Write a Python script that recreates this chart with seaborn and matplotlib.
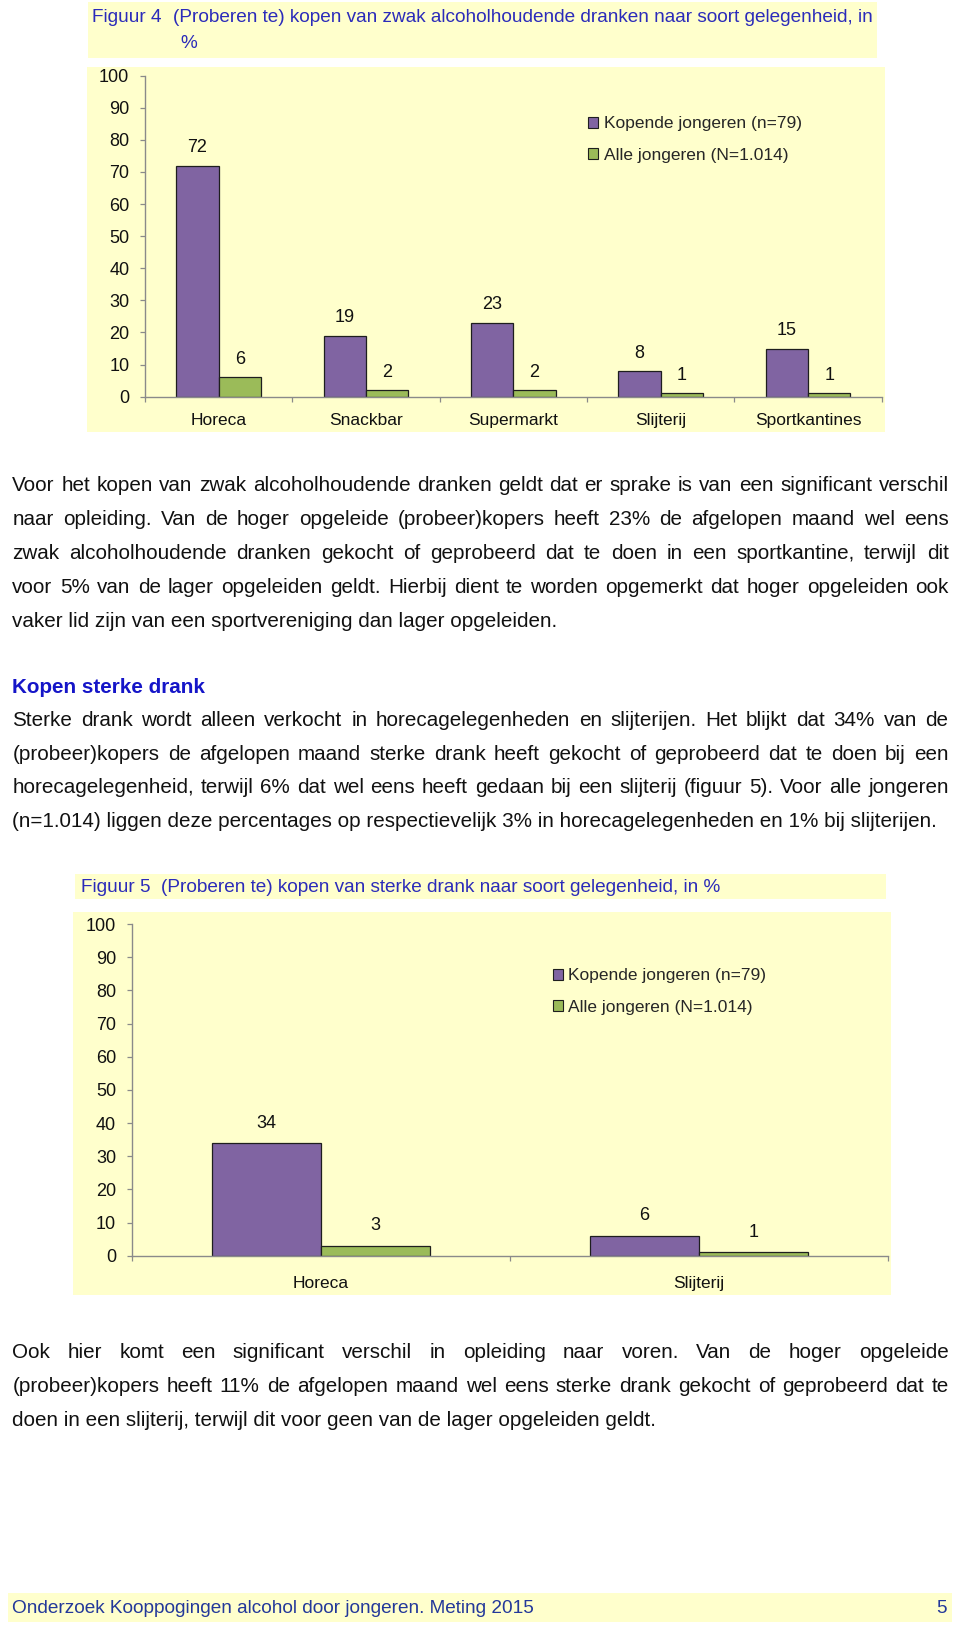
import matplotlib
matplotlib.use('Agg')
import matplotlib.pyplot as plt
from matplotlib.patches import Rectangle, Patch
import seaborn as sns
import pandas as pd
import numpy as np

# ---------------- data ----------------
fig4_categories = ['Horeca', 'Snackbar', 'Supermarkt', 'Slijterij', 'Sportkantines']
fig4_kopende = [72, 19, 23, 8, 15]
fig4_alle = [6, 2, 2, 1, 1]

fig5_categories = ['Horeca', 'Slijterij']
fig5_kopende = [34, 6]
fig5_alle = [3, 1]

series_labels = ['Kopende jongeren (n=79)', 'Alle jongeren (N=1.014)']
y_ticks = [0, 10, 20, 30, 40, 50, 60, 70, 80, 90, 100]

fig4_lead = 'Figuur 4'
fig4_title = '(Proberen te) kopen van zwak alcoholhoudende dranken naar soort gelegenheid, in'
fig4_title2 = '%'
fig5_lead = 'Figuur 5'
fig5_title = '(Proberen te) kopen van sterke drank naar soort gelegenheid, in %'

para1 = [
    'Voor het kopen van zwak alcoholhoudende dranken geldt dat er sprake is van een significant verschil',
    'naar opleiding. Van de hoger opgeleide (probeer)kopers heeft 23% de afgelopen maand wel eens',
    'zwak alcoholhoudende dranken gekocht of geprobeerd dat te doen in een sportkantine, terwijl dit',
    'voor 5% van de lager opgeleiden geldt. Hierbij dient te worden opgemerkt dat hoger opgeleiden ook',
    'vaker lid zijn van een sportvereniging dan lager opgeleiden.',
]
heading = 'Kopen sterke drank'
para2 = [
    'Sterke drank wordt alleen verkocht in horecagelegenheden en slijterijen. Het blijkt dat 34% van de',
    '(probeer)kopers de afgelopen maand sterke drank heeft gekocht of geprobeerd dat te doen bij een',
    'horecagelegenheid, terwijl 6% dat wel eens heeft gedaan bij een slijterij (figuur 5). Voor alle jongeren',
    '(n=1.014) liggen deze percentages op respectievelijk 3% in horecagelegenheden en 1% bij slijterijen.',
]
para3 = [
    'Ook hier komt een significant verschil in opleiding naar voren. Van de hoger opgeleide',
    '(probeer)kopers heeft 11% de afgelopen maand wel eens sterke drank gekocht of geprobeerd dat te',
    'doen in een slijterij, terwijl dit voor geen van de lager opgeleiden geldt.',
]
footer_text = 'Onderzoek Kooppogingen alcohol door jongeren. Meting 2015'
footer_page = '5'

# ---------------- style ----------------
PURPLE = '#8064A2'
GREEN = '#9BBB59'
BG = '#FFFFCC'
AXIS = '#8A8A8A'
TITLE_BLUE = '#2B2BBA'
HEAD_BLUE = '#1515C8'
FOOT_BLUE = '#23389A'
TEXT = '#111111'

sns.set_theme(style='white')
plt.rcParams['font.family'] = ['Liberation Sans', 'DejaVu Sans']

W, H = 960, 1626
fig = plt.figure(figsize=(W / 100, H / 100), dpi=100)
fig.patch.set_facecolor('white')
renderer = fig.canvas.get_renderer()


def fx(px):
    return px / W


def fy(py):
    return 1 - py / H


def band(x0, y0, x1, y1, color=BG):
    fig.patches.append(Rectangle((fx(x0), fy(y1)), (x1 - x0) / W, (y1 - y0) / H,
                                 transform=fig.transFigure, facecolor=color,
                                 edgecolor='none', zorder=-5))


def wpx(t):
    return t.get_window_extent(renderer=renderer).width


def put(x, y, s, size, color=TEXT, **kw):
    return fig.text(fx(x), fy(y), s, fontsize=size, va='center', color=color, **kw)


def fit(t, target):
    for _ in range(3):
        t.set_fontsize(t.get_fontsize() * target / wpx(t))
    return t


def justified(x0, x1, y, s, size, color=TEXT):
    words = s.split(' ')
    objs = [fig.text(0, fy(y), w, fontsize=size, va='center', color=color) for w in words]
    widths = [wpx(o) for o in objs]
    gap = (x1 - x0 - sum(widths)) / (len(words) - 1)
    x = x0
    for o, w in zip(objs, widths):
        o.set_x(fx(x))
        x += w + gap


# ---------------- backgrounds ----------------
band(88, 2, 877, 58)
band(86.7, 66.7, 885, 431.7)
band(75, 874, 886, 899)
band(73.3, 911.7, 891, 1295)
band(8, 1593, 952, 1622)

# ---------------- body font size from natural (last) lines ----------------
probe = [(para1[-1], 547), (para2[-1], 932), (para3[-1], 647)]
sizes = []
for s, target in probe:
    t = fig.text(0, 0, s, fontsize=14)
    sizes.append(14 * target / wpx(t))
    t.remove()
BODY = float(np.mean(sizes))

L, R = 12.4, 948.6


def paragraph(lines, y0, step=33.9):
    for i, s in enumerate(lines):
        y = y0 + i * step
        if i < len(lines) - 1:
            justified(L, R, y, s, BODY)
        else:
            put(L, y, s, BODY)


paragraph(para1, 485.8)
put(L, 687.3, heading, BODY, color=HEAD_BLUE, fontweight='bold')
paragraph(para2, 720.5, step=33.6)
paragraph(para3, 1352.9, step=33.7)

ft = put(L, 1608, footer_text, BODY, color=FOOT_BLUE)
fit(ft, 523)
put(946.5, 1608, footer_page, ft.get_fontsize(), color=FOOT_BLUE, ha='right')

# ---------------- titles ----------------
lead4 = put(92, 17.6, fig4_lead, 13, color=TITLE_BLUE)
t = put(173, 17.6, fig4_title, 13, color=TITLE_BLUE)
fit(t, 701)
TS = t.get_fontsize()
lead4.set_fontsize(TS)
put(180, 43.5, fig4_title2, TS, color=TITLE_BLUE)

put(81, 887, fig5_lead, TS, color=TITLE_BLUE)
put(160.7, 887, fig5_title, TS, color=TITLE_BLUE)

# ---------------- charts ----------------
FS = 12.5
TICK_FS = 13.0


def chart(left, right, top0, bottom0, cats, s1, s2, label_off, xlab_pad, legend_xy):
    ax = fig.add_axes([fx(left), fy(bottom0), (right - left) / W, (bottom0 - top0) / H])
    n = len(cats)
    df = pd.DataFrame({
        'cat': cats + cats,
        'val': s1 + s2,
        'series': [series_labels[0]] * n + [series_labels[1]] * n,
    })
    sns.barplot(data=df, x='cat', y='val', hue='series', order=cats,
                hue_order=series_labels, palette=[PURPLE, GREEN], saturation=1,
                width=0.576, gap=0, edgecolor='#1e1e1e', linewidth=0.9,
                legend=False, errorbar=None, ax=ax)
    ax.set_facecolor('none')
    ax.patch.set_alpha(0)
    ax.set_xlim(-0.5, n - 0.5)
    ax.set_ylim(0, 100)
    ax.set_xlabel('')
    ax.set_ylabel('')
    ax.grid(False)
    ax.set_yticks(y_ticks)
    ax.set_yticklabels([str(v) for v in y_ticks])
    ax.set_xticks(np.arange(n + 1) - 0.5)
    ax.set_xticklabels([''] * (n + 1))
    ax.set_xticks(np.arange(n), minor=True)
    ax.set_xticklabels(cats, minor=True)
    ax.tick_params(axis='y', left=True, direction='out', length=3.6, width=0.9,
                   color=AXIS, pad=7.7, labelsize=TICK_FS, labelcolor=TEXT)
    ax.tick_params(axis='x', which='major', bottom=True, direction='out', length=3.6,
                   width=0.9, color=AXIS)
    ax.tick_params(axis='x', which='minor', bottom=True, length=0, pad=xlab_pad,
                   labelsize=FS, labelcolor=TEXT)
    for sp in ['top', 'right']:
        ax.spines[sp].set_visible(False)
    for sp in ['left', 'bottom']:
        ax.spines[sp].set_color(AXIS)
        ax.spines[sp].set_linewidth(1.0)
        ax.spines[sp].set_zorder(3)
    for cont in ax.containers:
        for bar in cont:
            h = bar.get_height()
            ax.annotate(f'{int(round(h))}', (bar.get_x() + bar.get_width() / 2, h),
                        xytext=(0, label_off), textcoords='offset points',
                        ha='center', va='center', fontsize=TICK_FS, color=TEXT)
    handles = [Patch(facecolor=PURPLE, edgecolor='#1e1e1e', linewidth=0.8),
               Patch(facecolor=GREEN, edgecolor='#1e1e1e', linewidth=0.8)]
    ax.legend(handles, series_labels, loc='center left',
              bbox_to_anchor=(fx(legend_xy[0]), fy(legend_xy[1])),
              bbox_transform=fig.transFigure, frameon=False, fontsize=FS,
              handlelength=0.6, handleheight=0.6, handletextpad=0.3,
              labelspacing=0.95, borderpad=0, borderaxespad=0)
    return ax


chart(145, 881.7, 75.7, 396.7, fig4_categories, fig4_kopende, fig4_alle,
      12.9, 12.0, (588, 139.4))
chart(131.7, 888, 924, 1255.7, fig5_categories, fig5_kopende, fig5_alle,
      14.3, 14.5, (552.5, 991.5))

fig.savefig('out.png', dpi=100)
